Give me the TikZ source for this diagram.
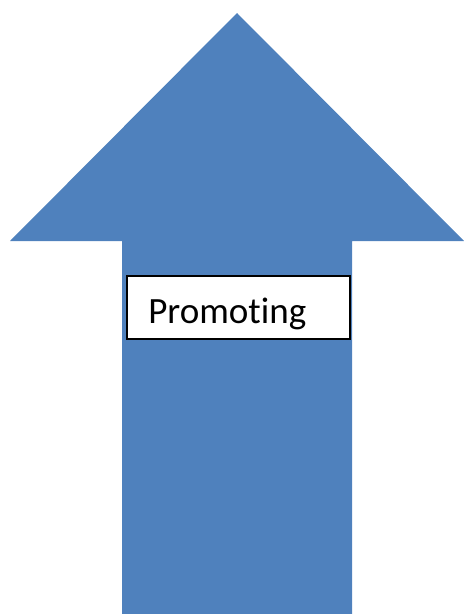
\documentclass[tikz,border=0pt]{standalone}
\usepackage{fontspec}
\setmainfont[Ligatures={NoCommon}]{Carlito}
\definecolor{arrowblue}{HTML}{4F81BD}
\tikzset{
  labelbox/.style={draw=black, line width=1.2pt, fill=white, minimum width=167.25pt, minimum height=47.25pt, inner sep=0pt},
  labeltext/.style={font=\fontsize{27.8}{30}\selectfont, inner sep=0pt, anchor=base west}
}
\begin{document}
\begin{tikzpicture}[x=0.75pt, y=-0.75pt]
            \useasboundingbox (0,0) rectangle (464,614);
            \fill[arrowblue] (237,13) -- (464,241) -- (352,241) -- (352,614)
                -- (122,614) -- (122,241) -- (10,241) -- cycle;
            \node[labelbox] (box) at (238.5,307.5) {};
            \node[labeltext] (lbl) at (148,323) {Promoting};
        \end{tikzpicture}
\end{document}
